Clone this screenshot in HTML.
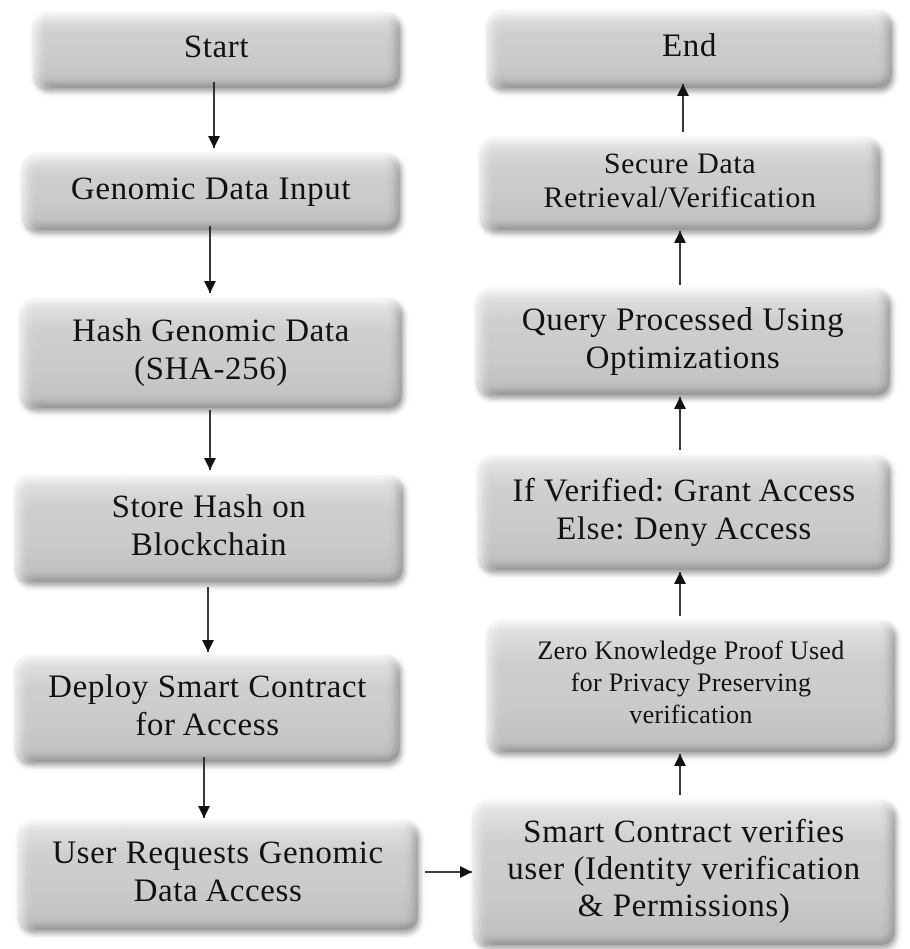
<!DOCTYPE html>
<html><head><style>
body{margin:0;width:910px;height:949px;background:#fff;position:relative;overflow:hidden;font-family:"Liberation Serif",serif;}
.b{position:absolute;box-sizing:border-box;border-radius:14px;display:flex;align-items:center;justify-content:center;text-align:center;color:#111;font-size:33px;letter-spacing:0.6px;line-height:38px;padding-bottom:6px;
background:linear-gradient(#e6e6e6,#cfcfcf 30%,#c9c9c9 70%,#bdbdbd);
box-shadow:inset 0 10px 8px -6px #fafafa,inset 12px 0 10px -8px #f2f2f2,inset -12px 0 10px -8px #9a9a9a,inset 0 -10px 8px -6px #8f8f8f,2px 4px 6px rgba(0,0,0,.35);}
svg{position:absolute;left:0;top:0}
</style></head><body>
<div class="b" style="left:33px;top:12px;width:367px;height:76px">Start</div>
<div class="b" style="left:22px;top:153px;width:378px;height:77px">Genomic Data Input</div>
<div class="b" style="left:20px;top:298px;width:382px;height:110px">Hash Genomic Data<br>(SHA-256)</div>
<div class="b" style="left:15px;top:475px;width:388px;height:107px">Store Hash on<br>Blockchain</div>
<div class="b" style="left:15px;top:655px;width:385px;height:107px">Deploy Smart Contract<br>for Access</div>
<div class="b" style="left:18px;top:820px;width:400px;height:110px">User Requests Genomic<br>Data Access</div>

<div class="b" style="left:487px;top:10px;width:405px;height:78px">End</div>
<div class="b" style="left:480px;top:137px;width:400px;height:93px;font-size:30px;line-height:34px">Secure Data<br>Retrieval/Verification</div>
<div class="b" style="left:476px;top:288px;width:414px;height:107px">Query Processed Using<br>Optimizations</div>
<div class="b" style="left:478px;top:455px;width:412px;height:115px">If Verified: Grant Access<br>Else: Deny Access</div>
<div class="b" style="left:487px;top:620px;width:408px;height:132px;font-size:26px;letter-spacing:0.3px;line-height:32px">Zero Knowledge Proof Used<br>for Privacy Preserving<br>verification</div>
<div class="b" style="left:473px;top:800px;width:422px;height:145px;line-height:37px">Smart Contract verifies<br>user (Identity verification<br>&amp; Permissions)</div>

<svg width="910" height="949">
<defs><marker id="a" markerWidth="14" markerHeight="14" refX="12" refY="6" orient="auto" markerUnits="userSpaceOnUse"><path d="M0,0L12,6L0,12z" fill="#111"/></marker></defs>
<g stroke="#222" stroke-width="1.8" marker-end="url(#a)">
<line x1="214" y1="82" x2="214" y2="148"/>
<line x1="210" y1="226" x2="210" y2="293"/>
<line x1="210" y1="410" x2="210" y2="470"/>
<line x1="208" y1="587" x2="208" y2="652"/>
<line x1="204" y1="757" x2="204" y2="818"/>
<line x1="425" y1="872" x2="472" y2="872"/>
<line x1="680" y1="795" x2="680" y2="754"/>
<line x1="680" y1="616" x2="680" y2="572"/>
<line x1="680" y1="450" x2="680" y2="397"/>
<line x1="680" y1="285" x2="680" y2="231"/>
<line x1="683" y1="132" x2="683" y2="84"/>
</g></svg>
</body></html>
